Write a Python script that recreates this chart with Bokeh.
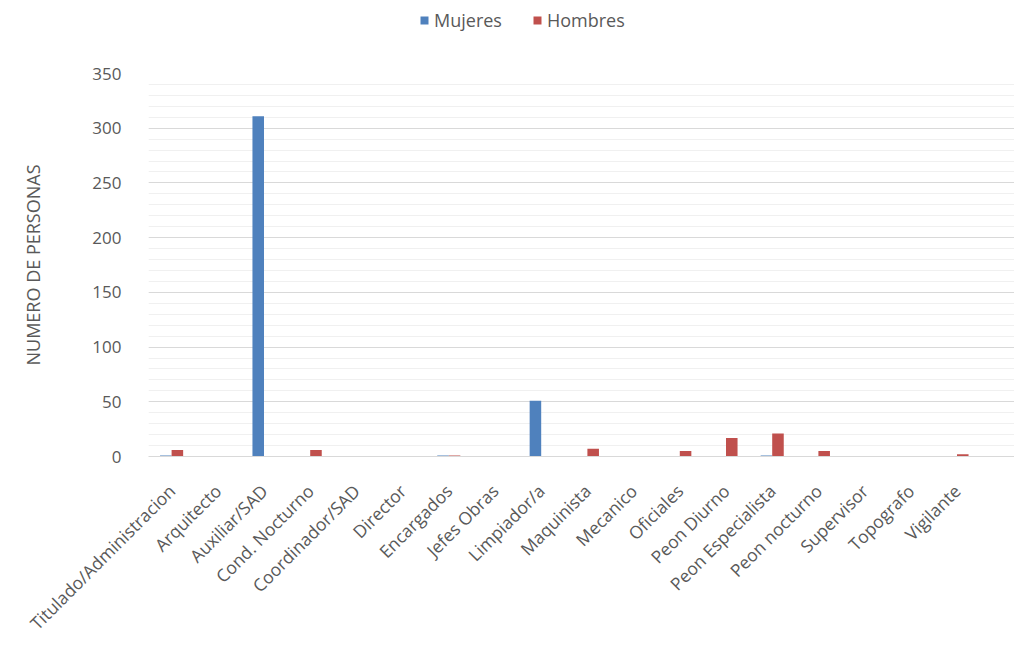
import math
from bokeh.plotting import figure
from bokeh.layouts import column
from bokeh.models import ColumnDataSource, Range1d, FixedTicker, SingleIntervalTicker, Legend, LegendItem
from bokeh.embed import file_html
from bokeh.resources import INLINE

categories = ["Titulado/Administracion", "Arquitecto", "Auxiliar/SAD", "Cond. Nocturno",
              "Coordinador/SAD", "Director", "Encargados", "Jefes Obras", "Limpiador/a",
              "Maquinista", "Mecanico", "Oficiales", "Peon Diurno", "Peon Especialista",
              "Peon nocturno", "Supervisor", "Topografo", "Vigilante"]
mujeres = [1, 0, 311, 0, 0, 0, 1, 0, 51, 0, 0, 0, 0, 1, 0, 0, 0, 0]
hombres = [6, 0, 0, 6, 0, 0, 1, 0, 0, 7, 0, 5, 17, 21, 5, 0, 0, 2]
series_names = ["Mujeres", "Hombres"]

FONT = "Open Sans"
GRAY = "#595959"
BLUE = "#4f81bd"
RED = "#c0504d"

xc = [i + 0.5 for i in range(len(categories))]
bw = 0.25
src = ColumnDataSource(dict(
    xm=[x - bw / 2 for x in xc], xh=[x + bw / 2 for x in xc],
    m=mujeres, h=hombres))

# ---- legend strip ----
lg = figure(width=1014, height=63, output_backend="svg", toolbar_location=None,
            x_range=Range1d(0, 1), y_range=Range1d(0, 1),
            min_border_left=0, min_border_right=0, min_border_top=0, min_border_bottom=0)
lg.axis.visible = False
lg.grid.visible = False
lg.outline_line_color = None
# zero-height swatch renderers (only their legend swatches are seen)
lm = lg.vbar(x=[0.5], top=[0], bottom=[0], width=0.001, fill_color=BLUE, line_color=None)
lh = lg.vbar(x=[0.5], top=[0], bottom=[0], width=0.001, fill_color=RED, line_color=None)
legend = Legend(items=[LegendItem(label=series_names[0], renderers=[lm]),
                       LegendItem(label=series_names[1], renderers=[lh])],
                orientation="horizontal", location=(271, 31),
                border_line_color=None, background_fill_alpha=0,
                glyph_width=10, glyph_height=10, label_standoff=5, spacing=30,
                padding=0, margin=0,
                label_text_font=FONT, label_text_font_size="18px",
                label_text_color=GRAY)
lg.add_layout(legend, "center")

# ---- main chart ----
p = figure(width=1014, height=582, output_backend="svg", toolbar_location=None,
           x_range=Range1d(0, 866 / 46.2), y_range=Range1d(0, 350),
           min_border_left=148, min_border_right=0, min_border_top=10,
           min_border_bottom=188)
p.outline_line_color = None
p.background_fill_color = "white"
p.border_fill_color = "white"

p.vbar(x="xm", top="m", width=bw, source=src, fill_color=BLUE, line_color=None)
p.vbar(x="xh", top="h", width=bw, source=src, fill_color=RED, line_color=None)

p.xaxis.ticker = FixedTicker(ticks=xc)
p.xaxis.major_label_overrides = {x: c for x, c in zip(xc, categories)}
p.xaxis.major_label_orientation = math.pi / 4
p.xaxis.axis_line_color = "#d9d9d9"
p.xaxis.major_tick_line_color = None
p.xaxis.minor_tick_line_color = None
p.xaxis.major_label_standoff = 25
p.xaxis.major_label_text_font = FONT
p.xaxis.major_label_text_font_size = "17.5px"
p.xaxis.major_label_text_color = GRAY
p.xgrid.grid_line_color = None

p.yaxis.ticker = SingleIntervalTicker(interval=50, num_minor_ticks=5)
p.yaxis.axis_line_color = None
p.yaxis.major_tick_line_color = None
p.yaxis.minor_tick_line_color = None
p.yaxis.major_label_standoff = 21
p.yaxis.major_label_text_font = FONT
p.yaxis.major_label_text_font_size = "17px"
p.yaxis.major_label_text_color = GRAY
p.yaxis.axis_label = "NUMERO DE PERSONAS"
p.yaxis.axis_label_text_font = FONT
p.yaxis.axis_label_text_font_size = "18px"
p.yaxis.axis_label_text_font_style = "normal"
p.yaxis.axis_label_text_color = GRAY
p.yaxis.axis_label_standoff = 44
p.ygrid.grid_line_color = "#d9d9d9"
p.ygrid.minor_grid_line_color = "#f0f0f0"

layout = column(lg, p, spacing=0)
open("out.html", "w").write(file_html(layout, INLINE))
